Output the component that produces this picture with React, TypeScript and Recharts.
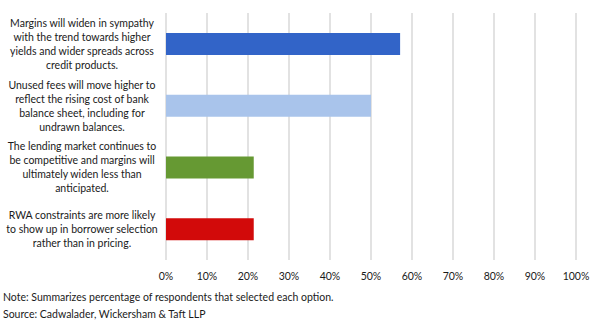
import React from "react";
import { BarChart, Bar, XAxis, YAxis, CartesianGrid, Cell } from "recharts";

const categories: string[][] = [
  ["Margins will widen in sympathy", "with the trend towards higher", "yields and wider spreads across", "credit products."],
  ["Unused fees will move higher to", "reflect the rising cost of bank", "balance sheet, including for", "undrawn balances."],
  ["The lending market continues to", "be competitive and margins will", "ultimately widen less than", "anticipated."],
  ["RWA constraints are more likely", "to show up in borrower selection", "rather than in pricing."],
];
const values: number[] = [57.1, 50, 21.4, 21.4];
const colors: string[] = ["#3264C8", "#A9C4EB", "#669933", "#D20A0A"];
const xTicks: number[] = [0, 10, 20, 30, 40, 50, 60, 70, 80, 90, 100];
const notes: string[] = [
  "Note: Summarizes percentage of respondents that selected each option.",
  "Source: Cadwalader, Wickersham & Taft LLP",
];

const data = categories.map((lines, i) => ({ key: String(i), value: values[i] }));

const FONT = "Lato, 'Open Sans', sans-serif";
const FS = 10.5;

const YTick = (props: any) => {
  const { y, payload } = props;
  const lines = categories[Number(payload.value)] || [];
  const lh = 14;
  const start = y - ((lines.length - 1) * lh) / 2;
  return (
    <text x={82} y={start} textAnchor="middle" dominantBaseline="central" fontSize={FS} fontFamily={FONT} fill="#1a1a1a">
      {lines.map((l, i) => (
        <tspan key={i} x={82} y={start + i * lh}>
          {l}
        </tspan>
      ))}
    </text>
  );
};

export default function App() {
  return (
    <div style={{ position: "absolute", left: 0, top: 0, width: 602, height: 322, background: "#fff" }}>
      <BarChart
        width={602}
        height={322}
        data={data}
        layout="vertical"
        margin={{ top: 13, right: 26, bottom: 32, left: 0 }}
        barSize={22}
      >
        <CartesianGrid horizontal={false} stroke="#d9d9d9" strokeWidth={1.5} />
        <XAxis
          type="number"
          domain={[0, 100]}
          ticks={xTicks}
          tickFormatter={(v: number) => `${v}%`}
          axisLine={false}
          tickLine={false}
          height={30}
          tick={{ fontSize: FS, fontFamily: FONT, fill: "#1a1a1a" }}
          tickMargin={7}
        />
        <YAxis
          type="category"
          dataKey="key"
          width={166}
          axisLine={false}
          tickLine={false}
          tick={<YTick />}
          interval={0}
        />
        <Bar dataKey="value" isAnimationActive={false}>
          {data.map((d, i) => (
            <Cell key={d.key} fill={colors[i]} />
          ))}
        </Bar>
      </BarChart>
      {notes.map((n, i) => (
        <div
          key={i}
          style={{
            position: "absolute",
            left: 3,
            top: 289 + i * 17,
            fontSize: FS,
            fontFamily: FONT,
            color: "#1a1a1a",
            whiteSpace: "nowrap",
            lineHeight: "16px",
          }}
        >
          {n}
        </div>
      ))}
    </div>
  );
}
